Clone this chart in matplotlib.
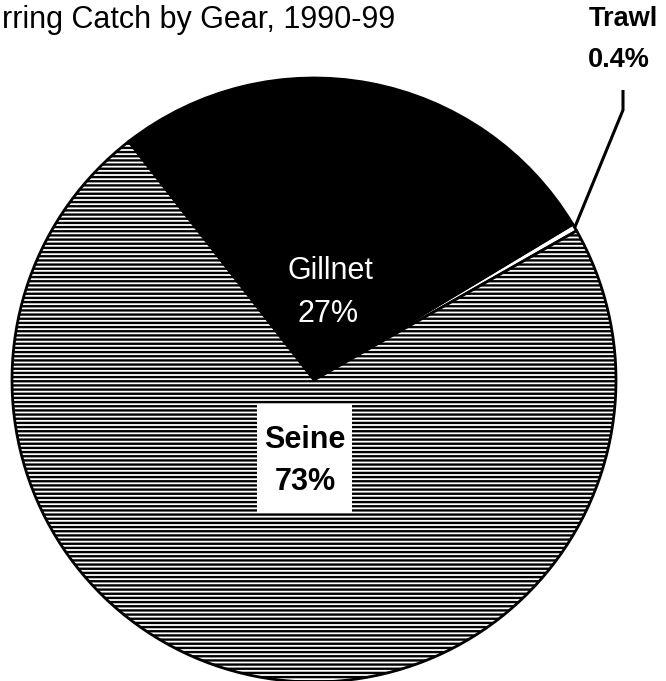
import numpy as np
import matplotlib
matplotlib.use("Agg")
import matplotlib.pyplot as plt
from matplotlib.patches import Rectangle

gears = ['Trawl', 'Gillnet', 'Seine']
shares = [0.4, 27, 73]
share_labels = ['0.4%', '27%', '73%']
# the scanned page cuts the start of the title off, keep what is visible
title = 'rring Catch by Gear, 1990-99'

plt.rcParams['font.family'] = ['Liberation Sans', 'DejaVu Sans']
plt.rcParams['hatch.linewidth'] = 1.7
plt.rcParams['hatch.color'] = 'black'

W, H = 666, 681
fig = plt.figure(figsize=(W / 100, H / 100), dpi=100)
ax = fig.add_axes([0, 0, 1, 1])

cx, cy, r = 314, H - 380, 302
wedges, _ = ax.pie(shares, startangle=29.6, counterclock=True,
                   center=(cx, cy), radius=r,
                   colors=['white', 'black', 'white'],
                   wedgeprops=dict(edgecolor='black', linewidth=2))
wedges[2].set_hatch('----')
ax.set_xlim(0, W)
ax.set_ylim(0, H)
ax.axis('off')

# Gillnet label (white on black)
ax.text(330, H - 279, gears[1], color='white', ha='center',
        va='baseline', fontsize=22)
ax.text(328, H - 322, share_labels[1], color='white', ha='center',
        va='baseline', fontsize=22)

# Seine label on a white box
ax.add_patch(Rectangle((257, H - 512), 95, 107, facecolor='white',
                       edgecolor='none', zorder=3))
ax.text(305, H - 448, gears[2], color='black', ha='center',
        va='baseline', fontsize=22, fontweight='bold', zorder=4)
ax.text(305, H - 490, share_labels[2], color='black', ha='center',
        va='baseline', fontsize=22, fontweight='bold', zorder=4)

# Trawl label with leader line from the wedge tip
t = wedges[0]
ang = np.deg2rad((t.theta1 + t.theta2) / 2)
tip = (cx + r * np.cos(ang), cy + r * np.sin(ang))
ax.plot([tip[0], 623, 623], [tip[1], H - 110, H - 90],
        color='black', lw=2.2, solid_capstyle='butt')
ax.text(623, H - 26, gears[0], color='black', ha='center',
        va='baseline', fontsize=19.5, fontweight='bold')
ax.text(619, H - 67, share_labels[0], color='black', ha='center',
        va='baseline', fontsize=19.5, fontweight='bold')

ax.text(2, H - 28, title, ha='left', va='baseline', fontsize=22)

fig.savefig('out.png', dpi=100)
